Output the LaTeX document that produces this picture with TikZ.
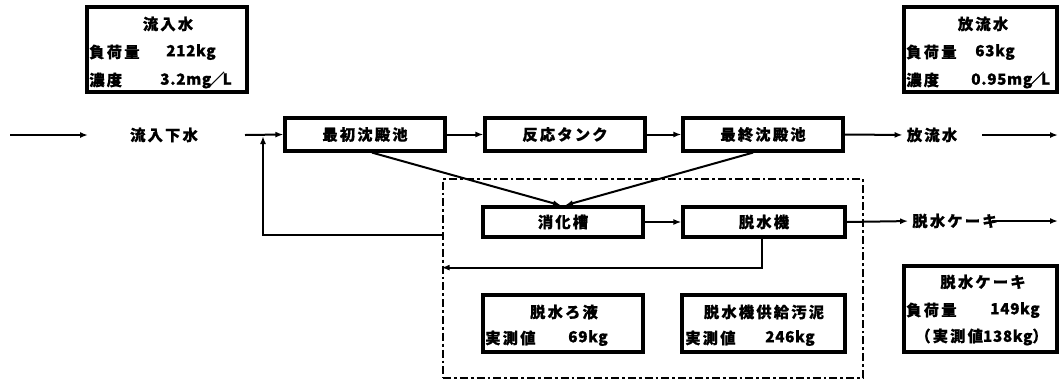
\documentclass[tikz,border=0pt]{standalone}
\usepackage{fontspec}
\setmainfont{Noto Sans CJK JP}[LetterSpace=14,BoldFeatures={FakeBold=0.6}]
\newfontfamily\lat{Noto Sans CJK JP}[LetterSpace=4,BoldFeatures={FakeBold=0.6}]
\usetikzlibrary{arrows.meta,calc}
\begin{document}
\begin{tikzpicture}[x=0.75pt,y=-0.75pt,
  font=\bfseries\fontsize{11.5}{13}\selectfont,
  every node/.style={inner sep=0pt},
  box/.style={draw,line width=2.4pt,minimum width=120pt,minimum height=24.75pt},
  ibox/.style={draw,line width=2.4pt},
  arr/.style={line width=1.5pt,-{Latex[length=6pt,width=4.5pt]}},
  dd/.style={draw,line width=2.2pt,dash pattern=on 6pt off 2.2pt on 2.2pt off 2.2pt}]
\useasboundingbox (0,0) rectangle (1059,380);

% info box: inflow
\node[ibox,minimum width=120pt,minimum height=63.75pt] (inbox) at (167,49.5) {};
\node (intitle) at (168,24) {流入水};
\node[anchor=west] (inl1) at (89,52) {負荷量};
\node[anchor=west] (inv1) at (166,52) {\lat 212kg};
\node[anchor=west] (inl2) at (89,80) {濃度};
\node[anchor=west] (inv2) at (160,80) {\lat 3.2mg\kern-1.5pt／\kern-1.5pt L};

% info box: outflow
\node[ibox,minimum width=114.75pt,minimum height=63.75pt] (outbox) at (980.5,49.5) {};
\node (outtitle) at (983,24) {放流水};
\node[anchor=west] (outl1) at (906,52) {負荷量};
\node[anchor=west] (outv1) at (975,52) {\lat 63kg};
\node[anchor=west] (outl2) at (906,80) {濃度};
\node[anchor=west] (outv2) at (971,80) {\lat 0.95mg\kern-2.5pt／\kern-2.5pt L};

% main flow
\coordinate (s0) at (10,135);
\coordinate (s1) at (88,135);
\node (inflow) at (164,135) {流入下水};
\coordinate (s2) at (245,135);
\node[box] (b1) at (365,134.5) {最初沈殿池};
\node[box] (b2) at (565,134.5) {反応タンク};
\node[box] (b3) at (763,134.5) {最終沈殿池};
\node (out) at (932,135) {放流水};
\coordinate (o1) at (982,135);
\coordinate (o2) at (1058,135);
\draw[arr] (s0) -- (s1);
\draw[arr] (s2) -- (b1.west);
\draw[arr] (b1) -- (b2);
\draw[arr] (b2) -- (b3);
\draw[arr,shorten >=3pt] (b3.east) -- (out.west);
\draw[arr] (o1) -- (o2);

% dashed region
\node[dd,minimum width=315pt,minimum height=149.25pt] (dbox) at (653,278.5) {};

% sludge line
\node[box,minimum height=22.5pt] (d1) at (563,222) {消化槽};
\node[box,minimum height=22.5pt,minimum width=121.5pt] (d2) at (764,222) {脱水機};
\node (cake) at (955,221) {脱水ケーキ};
\coordinate (c1) at (992,221);
\coordinate (c2) at (1058,221);
\draw[arr] ($(b1.south)+(7,0)$) -- ($(d1.north)+(-2,0)$);
\draw[arr] ($(b3.south)+(-10,0)$) -- ($(d1.north)+(2,0)$);
\draw[arr] (d1) -- (d2);
\draw[arr,shorten >=3pt] (d2.east) -- (cake.west);
\draw[arr] (c1) -- (c2);

% return flows
\path (d2.south) ++(-2,29) coordinate (r1);
\draw[arr] ($(d2.south)+(-2,0)$) -- (r1) -- (r1 -| dbox.west);
\coordinate (j) at (263,135);
\draw[arr] ($(dbox.north west)+(0,57)$) -| ($(j)+(0,1)$);

% measured boxes
\node[ibox,minimum width=120pt,minimum height=42.75pt] (f1) at (563,323.5) {};
\node (f1t) at (564,312) {脱水ろ液};
\node[anchor=west] (f1l) at (485,338) {実測値};
\node[anchor=west] (f1v) at (568,338) {\lat 69kg};
\node[ibox,minimum width=122.25pt,minimum height=42.75pt] (f2) at (763.5,323.5) {};
\node (f2t) at (764,312) {脱水機供給汚泥};
\node[anchor=west] (f2l) at (685,338) {実測値};
\node[anchor=west] (f2v) at (765,338) {\lat 246kg};

% cake box
\node[ibox,minimum width=114.75pt,minimum height=64.5pt] (kbox) at (980.5,309) {};
\node (kt) at (983,282) {脱水ケーキ};
\node[anchor=west] (kl) at (906,310) {負荷量};
\node[anchor=west] (kv) at (990,310) {\lat 149kg};
\node[anchor=west] (km) at (915,337) {（実測値{\lat 138kg}）};
\end{tikzpicture}
\end{document}
